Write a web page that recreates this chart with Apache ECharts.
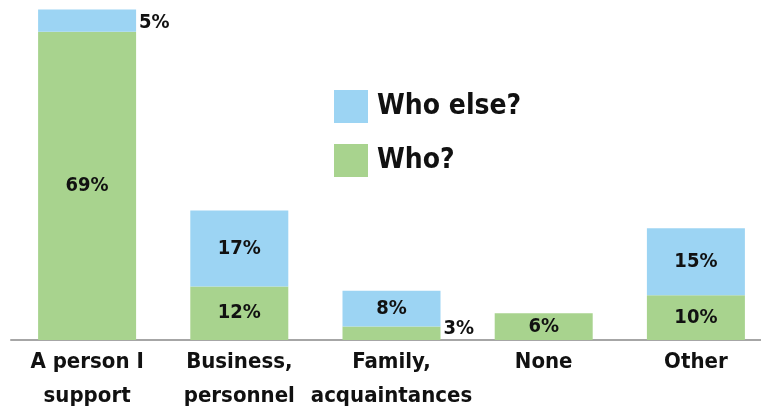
<!DOCTYPE html>
<html>
<head>
<meta charset="utf-8">
<script src="https://cdn.jsdelivr.net/npm/echarts@6/dist/echarts.min.js"></script>
<style>
  html, body { margin: 0; padding: 0; background: #fff; }
  #chart { width: 761px; height: 410px; }
</style>
</head>
<body>
<div id="chart"></div>
<script>
var categories = ['A person I\nsupport', 'Business,\npersonnel', 'Family,\nacquaintances', 'None', 'Other'];
var whoValues = [69, 12, 3, 6, 10];
var whoElseValues = [5, 17, 8, 0, 15];

var fontFam = '"DejaVu Sans Condensed", "Liberation Sans Narrow", sans-serif';
var green = '#a8d38e';
var blue = '#9cd4f3';

// thin segments get their label beside the bar
function labelFor(v, thin, dy) {
    if (!v) return { value: v, label: { show: false } };
    if (thin) {
        return { value: v, label: { position: 'right', distance: 3, offset: [0, dy] } };
    }
    return v;
}

var whoData = whoValues.map(function (v) { return labelFor(v, v < 5, -5); });
var whoElseData = whoElseValues.map(function (v) { return labelFor(v, v < 6, 2); });

var myChart = echarts.init(document.getElementById('chart'));
var option = {
    animation: false,
    grid: { left: 11, right: -11, top: 5, bottom: 70, outerBoundsMode: 'none', containLabel: false },
    legend: {
        orient: 'vertical',
        left: 329,
        top: 85,
        itemWidth: 34,
        itemHeight: 33,
        itemGap: 21,
        icon: 'rect',
        data: ['Who else?', 'Who?'],
        textStyle: { fontFamily: fontFam, fontWeight: 'bold', fontSize: 28, color: '#111', padding: [0, 0, 0, 4] }
    },
    xAxis: {
        type: 'category',
        data: categories,
        axisLine: { lineStyle: { color: '#a6a6a6', width: 2 } },
        axisTick: { show: false },
        axisLabel: {
            interval: 0,
            margin: 5,
            fontFamily: fontFam,
            fontWeight: 'bold',
            fontSize: 22,
            lineHeight: 34,
            color: '#111'
        }
    },
    yAxis: {
        type: 'value',
        min: 0,
        max: 75,
        show: false,
        splitLine: { show: false }
    },
    series: [
        {
            name: 'Who?',
            type: 'bar',
            stack: 'total',
            barWidth: 98,
            itemStyle: { color: green },
            label: {
                show: true,
                formatter: '{c}%',
                fontFamily: fontFam,
                fontWeight: 'bold',
                fontSize: 20,
                color: '#111'
            },
            data: whoData
        },
        {
            name: 'Who else?',
            type: 'bar',
            stack: 'total',
            barWidth: 98,
            itemStyle: { color: blue },
            label: {
                show: true,
                formatter: '{c}%',
                fontFamily: fontFam,
                fontWeight: 'bold',
                fontSize: 20,
                color: '#111'
            },
            data: whoElseData
        }
    ]
};
myChart.setOption(option);
</script>
</body>
</html>
